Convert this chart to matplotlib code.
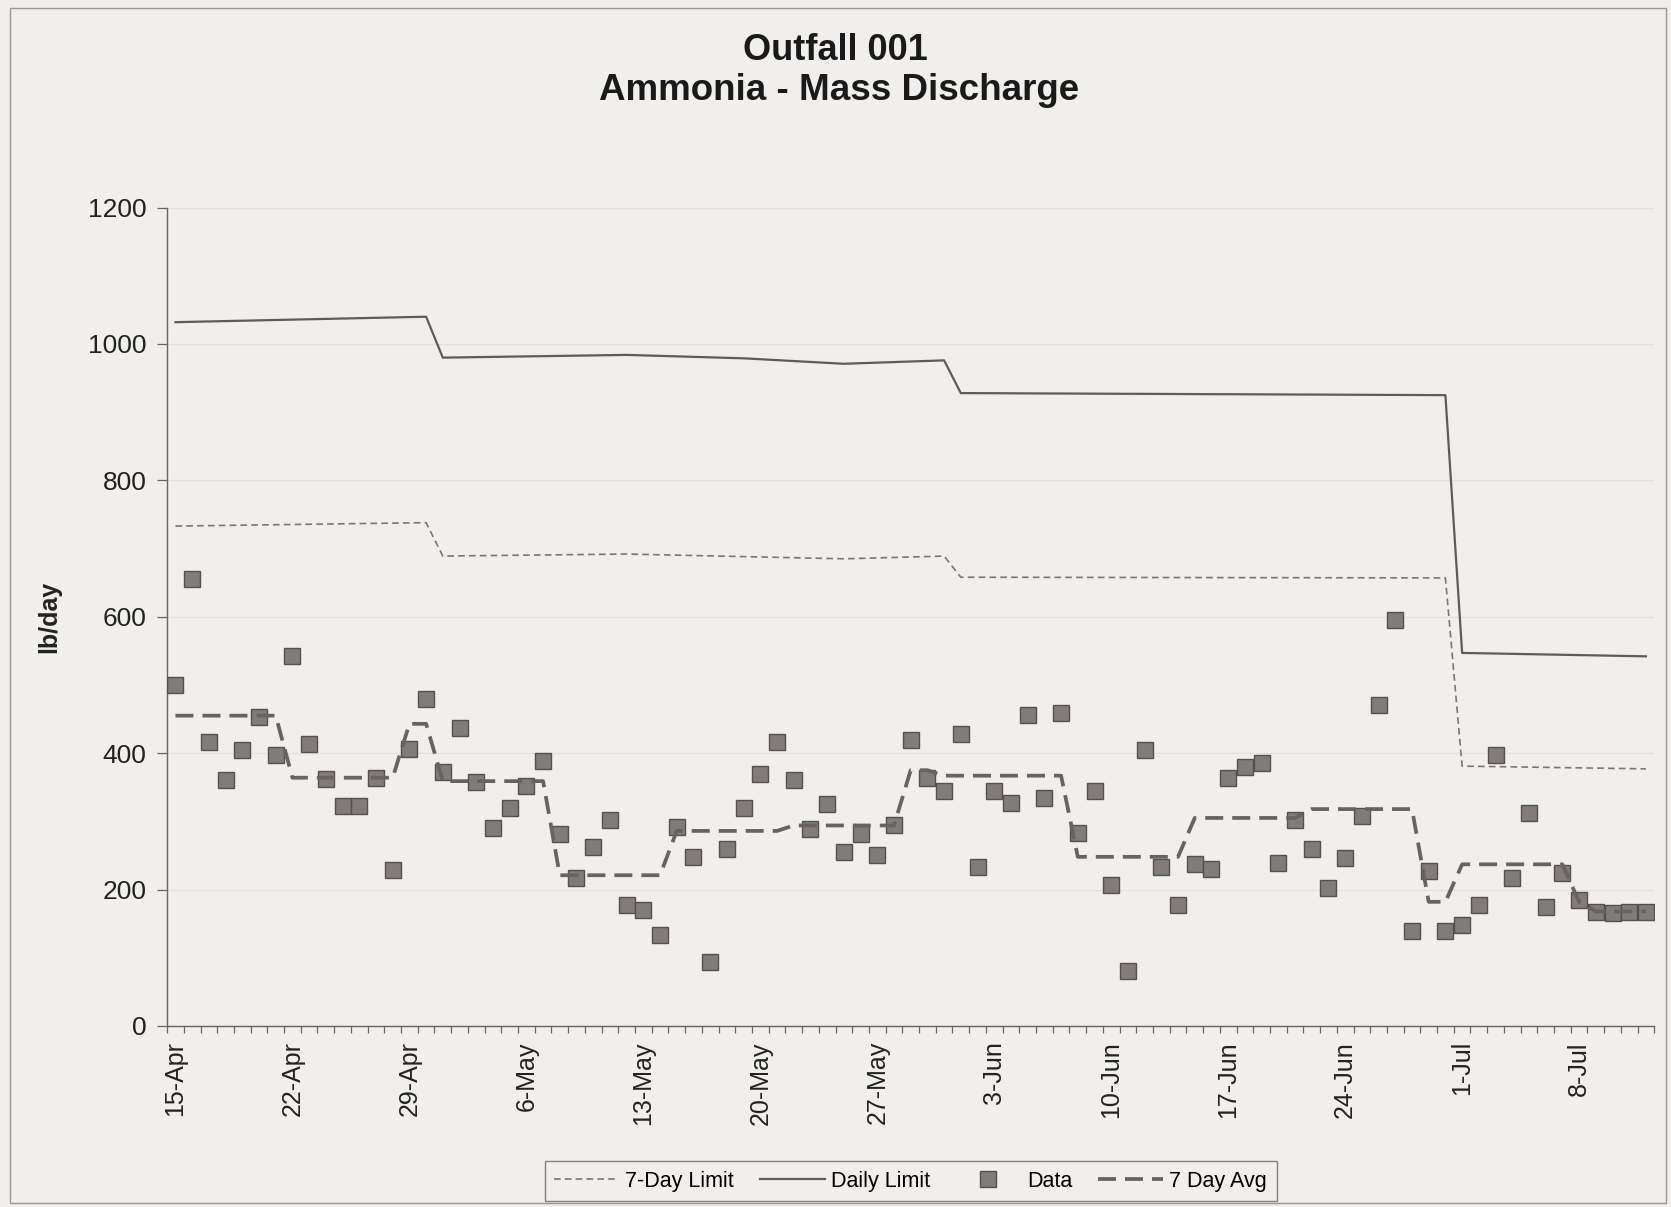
import numpy as np
import matplotlib
matplotlib.use("Agg")
import matplotlib.pyplot as plt
from matplotlib.patches import Rectangle
from matplotlib.ticker import FixedLocator

plt.rcParams['font.family'] = ['Liberation Sans', 'DejaVu Sans']

# daily data, 15-Apr .. 12-Jul (lb/day)
data = [500, 655, 416, 361, 405, 453, 397, 542, 414, 362,
        322, 323, 364, 228, 406, 480, 372, 437, 358, 290,
        319, 352, 389, 281, 217, 262, 302, 177, 170, 134,
        292, 248, 94, 259, 319, 369, 417, 361, 289, 325,
        255, 281, 250, 294, 420, 364, 345, 428, 233, 345,
        327, 456, 334, 459, 283, 344, 206, 80, 405, 233,
        178, 237, 230, 364, 380, 386, 239, 302, 259, 203,
        247, 308, 470, 595, 139, 227, 139, 148, 178, 397,
        217, 312, 175, 225, 184, 167, 166, 167, 167]

avg7 = [455, 455, 455, 455, 455, 455, 455, 364, 364, 364,
        364, 364, 364, 364, 443, 443, 359, 359, 359, 359,
        359, 359, 359, 221, 221, 221, 221, 221, 221, 221,
        286, 286, 286, 286, 286, 286, 286, 294, 294, 294,
        294, 294, 294, 294, 375, 375, 367, 367, 367, 367,
        367, 367, 367, 367, 248, 248, 248, 248, 248, 248,
        248, 305, 305, 305, 305, 305, 305, 305, 318, 318,
        318, 318, 318, 318, 318, 182, 182, 237, 237, 237,
        237, 237, 237, 237, 182, 168, 168, 168, 168]

# limit lines (break points only)
daily_days = [0, 15, 16, 27, 34, 40, 46, 47, 76, 77, 88]
daily_vals = [1032, 1040, 980, 984, 979, 971, 976, 928, 925, 547, 542]
week_days = [0, 15, 16, 27, 40, 46, 47, 76, 77, 88]
week_vals = [733, 738, 689, 692, 685, 689, 658, 657, 381, 377]

label_days = [0, 7, 14, 21, 28, 35, 42, 49, 56, 63, 70, 77, 84]
day_labels = ['15-Apr', '22-Apr', '29-Apr', '6-May', '13-May', '20-May', '27-May',
              '3-Jun', '10-Jun', '17-Jun', '24-Jun', '1-Jul', '8-Jul']

paper = '#f1efec'
fig = plt.figure(figsize=(16.71, 12.07), dpi=100, facecolor=paper)
ax = fig.add_axes([0.1, 0.15, 0.890, 0.678])
ax.set_facecolor(paper)

days = np.arange(len(data))

ax.plot(week_days, week_vals, color='#7a7675', lw=1.2, ls=(0, (4, 2.5)),
        label='7-Day Limit', zorder=3)
ax.plot(daily_days, daily_vals, color='#5f5b5a', lw=1.6, ls='-',
        label='Daily Limit', zorder=3)
ax.plot(days, data, ls='none', marker='s', markersize=11.5,
        markerfacecolor='#817b79', markeredgecolor='#55504f', markeredgewidth=1,
        label='Data', zorder=4)
ax.plot(days, avg7, color='#686362', lw=2.7, ls=(0, (4.8, 2.4)),
        label='7 Day Avg', zorder=5)

ax.set_xlim(-0.5, 88.5)
ax.set_ylim(0, 1200)
ax.set_yticks(range(0, 1201, 200))
ax.yaxis.grid(True, color='#e4e1dd', lw=1)
ax.set_axisbelow(True)

ax.xaxis.set_major_locator(FixedLocator(label_days))
ax.set_xticklabels(day_labels, rotation=90)
ax.xaxis.set_minor_locator(FixedLocator(np.arange(-0.5, 89, 1)))
ax.tick_params(axis='x', which='major', length=0, pad=11, labelsize=18, labelcolor='#222')
ax.tick_params(axis='x', which='minor', length=5, width=0.9, color='#666')
ax.tick_params(axis='y', length=7, width=0.9, color='#666', pad=8, labelsize=19, labelcolor='#222')

for s in ['top', 'right']:
    ax.spines[s].set_visible(False)
for s in ['left', 'bottom']:
    ax.spines[s].set_color('#666')
    ax.spines[s].set_linewidth(1)

ax.set_ylabel('lb/day', fontsize=18, fontweight='bold', color='#222')
ax.yaxis.set_label_coords(-0.071, 0.5)

fig.text(0.5, 0.958, 'Outfall 001', ha='center', va='center',
         fontsize=26, fontweight='bold', color='#1a1a1a')
fig.text(0.502, 0.925, 'Ammonia - Mass Discharge', ha='center', va='center',
         fontsize=26.5, fontweight='bold', color='#1a1a1a')

leg = fig.legend(loc='center', bbox_to_anchor=(0.545, 0.0215), ncol=4,
                 fontsize=15.5, frameon=True, fancybox=False, handlelength=3.0,
                 handletextpad=0.3, columnspacing=1.2, borderpad=0.45)
leg.get_frame().set_edgecolor('#6a6665')
leg.get_frame().set_facecolor(paper)
leg.get_frame().set_linewidth(1)

fig.patches.append(Rectangle((0.006, 0.003), 0.991, 0.990, transform=fig.transFigure,
                             fill=False, edgecolor='#9a9694', lw=1))

fig.savefig('out.png', dpi=100, facecolor=paper)
